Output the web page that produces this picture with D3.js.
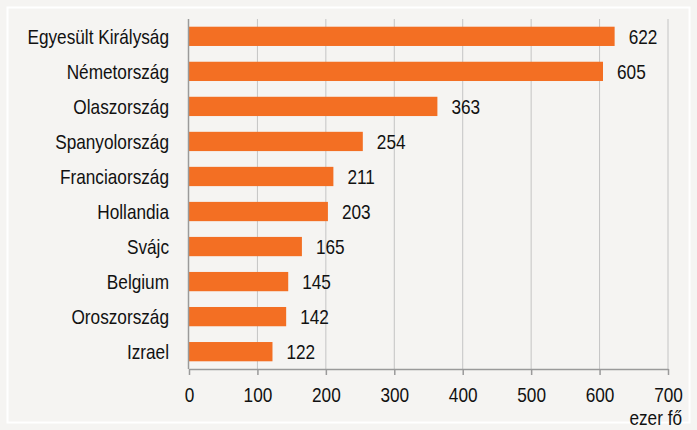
<!DOCTYPE html>
<html>
<head>
<meta charset="utf-8">
<script src="https://cdn.jsdelivr.net/npm/d3@7"></script>
<style>
  body { margin: 0; background: #f5f4f2; }
  svg { display: block; }
  text { font-family: "Liberation Sans", Arial, sans-serif; fill: #111; }
</style>
</head>
<body>
<div id="chart"></div>
<script>
var countries = ["Egyesült Királyság", "Németország", "Olaszország", "Spanyolország", "Franciaország",
                 "Hollandia", "Svájc", "Belgium", "Oroszország", "Izrael"]
var values = [622, 605, 363, 254, 211, 203, 165, 145, 142, 122]
var ticks = [0, 100, 200, 300, 400, 500, 600, 700]
var unitLabel = "ezer fő"

var width = 697, height = 430;
var fs = 21;
var sx = 0.82; // narrow look, the original uses a condensed face

var svg = d3.select("#chart")
    .append("svg")
    .attr("width", width)
    .attr("height", height);

svg.append("rect")
    .attr("width", width).attr("height", height)
    .attr("fill", "#f5f4f2");

// thin white frame
svg.append("rect")
    .attr("x", 7.5).attr("y", 7.5)
    .attr("width", width - 15).attr("height", height - 15)
    .attr("fill", "none")
    .attr("stroke", "#ffffff")
    .attr("stroke-width", 2);

var x = d3.scaleLinear().domain([0, 700]).range([189, 668]);
var y = d3.scaleBand().domain(countries).range([19, 369]).paddingInner(0.45).paddingOuter(0.22);

function narrow(sel, px, py, anchor) {
  sel.attr("transform", (d, i) => "translate(" + px(d, i) + "," + py(d, i) + ") scale(" + sx + ",1)")
     .attr("text-anchor", anchor)
     .attr("font-size", fs);
}

// grid
svg.append("g")
    .selectAll("line")
    .data(ticks.slice(1))
    .enter().append("line")
    .attr("x1", d => x(d)).attr("x2", d => x(d))
    .attr("y1", 19).attr("y2", 369)
    .attr("stroke", "#c4c4c4")
    .attr("stroke-width", 1);

// bars
svg.append("g")
    .selectAll("rect")
    .data(values)
    .enter().append("rect")
    .attr("x", x(0))
    .attr("y", (d, i) => y(countries[i]))
    .attr("width", d => x(d) - x(0))
    .attr("height", y.bandwidth())
    .attr("fill", "#f36f23");

// value labels
svg.append("g")
    .selectAll("text")
    .data(values)
    .enter().append("text")
    .call(narrow, d => x(d) + 14, (d, i) => y(countries[i]) + y.bandwidth() / 2 + 7.5, "start")
    .text(d => d);

// category labels
svg.append("g")
    .selectAll("text")
    .data(countries)
    .enter().append("text")
    .call(narrow, d => 169, d => y(d) + y.bandwidth() / 2 + 7.5, "end")
    .text(d => d);

// left axis line
svg.append("line")
    .attr("x1", x(0) - 0.5).attr("x2", x(0) - 0.5)
    .attr("y1", 19).attr("y2", 369)
    .attr("stroke", "#9a9a9a")
    .attr("stroke-width", 1.5);

// bottom axis
var xAxis = svg.append("g")
    .attr("transform", "translate(0,369)")
    .call(d3.axisBottom(x).tickValues(ticks).tickSize(6).tickPadding(11).tickSizeOuter(0));
xAxis.select(".domain").attr("stroke", "#9a9a9a").attr("stroke-width", 1.5);
xAxis.selectAll(".tick line").attr("stroke", "#9a9a9a").attr("stroke-width", 1.5);
xAxis.selectAll(".tick text").remove();
xAxis.selectAll(".tick").append("text")
    .call(narrow, d => 0, d => 33, "middle")
    .attr("font-family", "Liberation Sans, Arial, sans-serif")
    .attr("fill", "#111")
    .text(d => d);

svg.append("text")
    .datum(unitLabel)
    .call(narrow, d => 682, d => 425, "end")
    .text(d => d);
</script>
</body>
</html>
